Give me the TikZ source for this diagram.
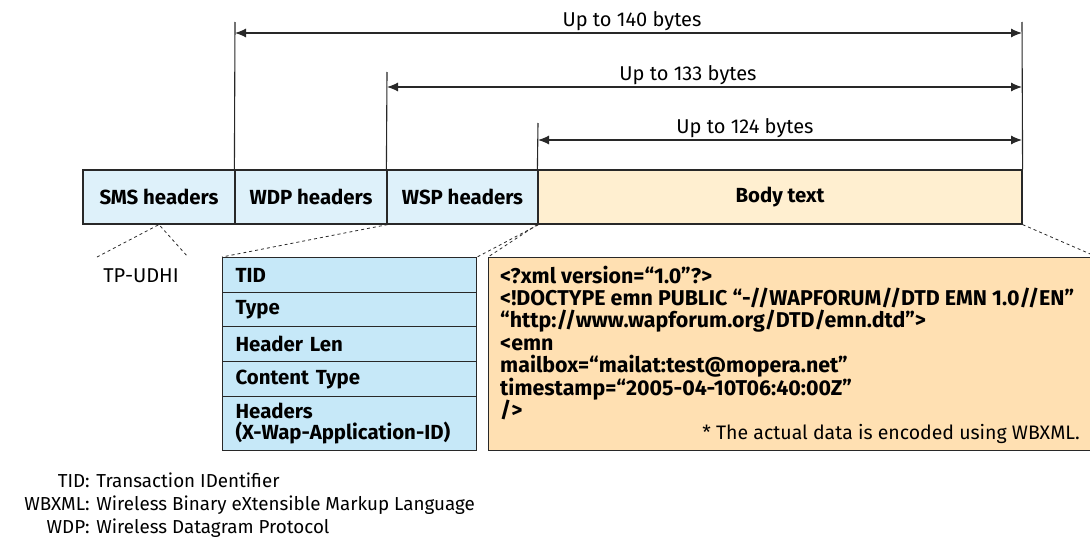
\documentclass[tikz,border=0pt]{standalone}
\usepackage{fontspec}
\setmainfont{Fira Sans}
\usetikzlibrary{arrows.meta}
\definecolor{barblue}{RGB}{222,241,250}
\definecolor{stackblue}{RGB}{198,232,248}
\definecolor{barorange}{RGB}{255,239,208}
\definecolor{boxorange}{RGB}{255,224,178}
\definecolor{edge}{RGB}{40,40,40}
\begin{document}
\begin{tikzpicture}[x=1pt,y=-1pt,
  cell/.style={draw=edge,line width=1.2pt,minimum height=54pt,inner sep=0pt,
    font=\bfseries\fontsize{20.4}{22}\selectfont},
  row/.style={draw=edge,line width=1.2pt,fill=stackblue,anchor=north west,
    minimum width=254pt,text width=228pt,inner xsep=13pt,inner ysep=0pt,align=left,
    font=\bfseries\fontsize{20.4}{21}\selectfont},
  rule/.style={draw=edge,line width=1.1pt},
  dim/.style={draw=edge,line width=1.1pt,{Latex[length=11pt,width=9pt]}-{Latex[length=11pt,width=9pt]}},
  plain/.style={font=\fontsize{20}{22}\selectfont,inner sep=0pt},
  legend/.style={font=\fontsize{18.8}{22}\selectfont,inner sep=0pt,anchor=base west},
  codeline/.style={font=\bfseries\fontsize{21.4}{22}\selectfont,inner sep=0pt,anchor=base west},
  zoomline/.style={draw=edge,line width=0.8pt,dash pattern=on 3pt off 3pt}
]
\useasboundingbox (0,0) rectangle (1090,538);
\clip (0,0) rectangle (1090,538);

% top bar
\node[cell,fill=barblue,minimum width=152pt] (sms) at (159,197) {SMS headers};
\node[cell,fill=barblue,minimum width=152pt] (wdp) at (311,197) {WDP headers};
\node[cell,fill=barblue,minimum width=151pt] (wsp) at (462.5,197) {WSP headers};
\node[cell,fill=barorange,minimum width=484pt] (body) at (780,197) {Body text};

% vertical extension lines
\coordinate (t1) at (235,22);
\coordinate (t2) at (387,72);
\coordinate (t3) at (538,123);
\coordinate (tr) at (1022,22);
\draw[rule] (wdp.north west) -- (t1);
\draw[rule] (wsp.north west) -- (t2);
\draw[rule] (body.north west) -- (t3);
\draw[rule] (body.north east) -- (tr);

% dimension arrows
\coordinate (a1l) at (235,33);  \coordinate (a1r) at (1022,33);
\coordinate (a2l) at (387,87);  \coordinate (a2r) at (1022,87);
\coordinate (a3l) at (538,140); \coordinate (a3r) at (1022,140);
\draw[dim] (a1l) -- (a1r);
\draw[dim] (a2l) -- (a2r);
\draw[dim] (a3l) -- (a3r);
\node[plain,anchor=base] (l1) at (632,27) {Up to 140 bytes};
\node[plain,anchor=base] (l2) at (688,80) {Up to 133 bytes};
\node[plain,anchor=base] (l3) at (745,133) {Up to 124 bytes};

% WSP header stack
\node[row,minimum height=35pt] (r1) at (222,257) {TID};
\node[row,minimum height=34pt] (r2) at (222,292) {Type};
\node[row,minimum height=35pt] (r3) at (222,326) {Header Len};
\node[row,minimum height=35pt] (r4) at (222,361) {Content Type};
\node[row,minimum height=54pt] (r5) at (222,396) {Headers\\(X-Wap-Application-ID)};

% XML body box
\node[draw=edge,line width=1.2pt,fill=boxorange,anchor=north west,
      minimum width=608pt,minimum height=193pt,inner sep=0pt] (xml) at (488,257) {};
\node[codeline] (c1) at (500,283) {<?xml version=“1.0”?>};
\node[codeline] (c2) at (500,305) {<!DOCTYPE emn PUBLIC “-//WAPFORUM//DTD EMN 1.0//EN”};
\node[codeline] (c3) at (500,327) {“http://www.wapforum.org/DTD/emn.dtd”>};
\node[codeline] (c4) at (500,350) {<emn};
\node[codeline] (c5) at (500,372) {mailbox=“mailat:test@mopera.net”};
\node[codeline] (c6) at (500,395) {timestamp=“2005-04-10T06:40:00Z”};
\node[codeline] (c7) at (500,417) {/>};
\node[font=\fontsize{19.5}{22}\selectfont,inner sep=0pt,anchor=base east] (note) at (1080,439)
  {* The actual data is encoded using WBXML.};

% zoom (dashed) lines
\coordinate (tpl) at (97,257);
\coordinate (tpr) at (188,257);
\draw[zoomline] (tpl) -- (sms.south) -- (tpr);
\draw[zoomline] (wdp.south east) -- (r1.north west);
\draw[zoomline] (wsp.south east) -- (r1.north east);
\draw[zoomline] (body.south west) -- (xml.north west);
\draw[zoomline] (body.south east) -- (xml.north east);

% labels
\node[plain,anchor=base] (tpudhi) at (141,282) {TP-UDHI};
\node[legend] (g1) at (85,487) {\llap{TID}: Transaction IDentifier};
\node[legend] (g2) at (85,510.5) {\llap{WBXML}: Wireless Binary eXtensible Markup Language};
\node[legend] (g3) at (85,533.5) {\llap{WDP}: Wireless Datagram Protocol};
\end{tikzpicture}
\end{document}
